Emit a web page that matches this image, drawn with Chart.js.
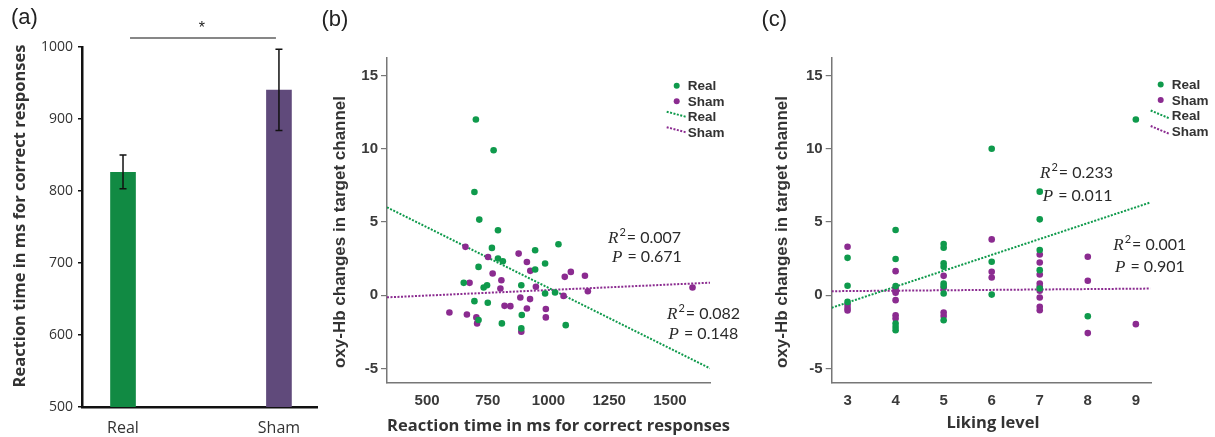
<!DOCTYPE html>
<html>
<head>
<meta charset="utf-8">
<script src="https://cdn.jsdelivr.net/npm/chart.js@4.4.0/dist/chart.umd.min.js"></script>
<style>
  html, body { margin: 0; padding: 0; background: #fff; }
  body { width: 1215px; height: 437px; position: relative; overflow: hidden; }
  canvas { position: absolute; top: 0; }
</style>
</head>
<body>
<canvas id="chartA" width="320" height="437" style="left:0px"></canvas>
<canvas id="chartB" width="450" height="437" style="left:310px"></canvas>
<canvas id="chartC" width="465" height="437" style="left:750px"></canvas>
<script>
// (a) mean reaction time per group
const groups = ['Real', 'Sham'];
const meanRT = [826, 940];
const errLow = [803, 884];
const errHigh = [850, 997];
const rtTicks = [500, 600, 700, 800, 900, 1000];

// (b) reaction time vs oxy-Hb change
const rtReal = [701, 774, 695, 715, 792, 767, 1041, 945, 792, 812, 986, 945, 712, 651, 747, 733, 888, 986, 1027, 695, 750, 890, 712, 808, 888, 1071];
const hbRealB = [12.0, 9.9, 7.05, 5.16, 4.43, 3.23, 3.48, 3.07, 2.5, 2.32, 2.16, 1.75, 1.93, 0.84, 0.68, 0.52, 0.68, 0.11, 0.18, -0.41, -0.52, -1.36, -1.7, -1.93, -2.27, -2.05];
const rtSham = [658, 751, 877, 911, 925, 770, 806, 675, 802, 948, 1092, 1067, 1150, 1162, 1062, 884, 924, 1593, 819, 843, 911, 989, 592, 664, 703, 989, 706, 888];
const hbShamB = [3.3, 2.61, 2.84, 2.27, 1.66, 1.48, 1.02, 0.84, 0.45, 0.57, 1.59, 1.25, 1.33, 0.27, -0.05, -0.16, -0.27, 0.52, -0.73, -0.75, -0.91, -0.95, -1.18, -1.32, -1.52, -1.52, -1.93, -2.5];
const fitXB = [335, 1665];
const fitRealB = [6.0, -5.0];
const fitShamB = [-0.15, 0.85];
const rtAxisTicks = [500, 750, 1000, 1250, 1500];

// (c) liking level vs oxy-Hb change
const likeReal = [3, 3, 3, 4, 4, 4, 4, 4, 4, 5, 5, 5, 5, 5, 5, 5, 5, 6, 6, 6, 7, 7, 7, 7, 7, 8, 9];
const hbRealC = [2.55, 0.64, -0.46, 4.45, 2.47, 0.62, -1.94, -2.17, -2.4, 3.49, 3.24, 2.17, 1.94, 0.8, 0.62, 0.11, -1.71, 10.0, 2.28, 0.04, 7.07, 5.18, 3.08, 1.71, 0.45, -1.44, 12.0];
const likeSham = [3, 3, 3, 3, 4, 4, 4, 4, 4, 4, 4, 5, 5, 5, 5, 6, 6, 6, 7, 7, 7, 7, 7, 7, 7, 7, 7, 8, 8, 8, 9];
const hbShamC = [3.31, -0.64, -0.87, -1.05, 1.64, 0.46, 0.27, 0.16, -0.34, -1.37, -1.6, 1.32, 0.5, -1.19, -1.42, 3.81, 1.6, 1.21, 2.78, 2.23, 1.41, 0.8, 0.57, 0.3, -0.16, -0.8, -1.03, 2.62, 0.98, -2.59, -1.98];
const fitXC = [2.67, 9.3];
const fitRealC = [-0.86, 6.33];
const fitShamC = [0.27, 0.45];
const likeTicks = [3, 4, 5, 6, 7, 8, 9];

const hbTicks = [-5, 0, 5, 10, 15];

const GREEN = '#0f9a4c';
const PURPLE = '#8b2b90';
const TXT = '#333';

function pts(xs, ys) { return xs.map((x, i) => ({ x: x, y: ys[i] })); }

function vText(ctx, txt, x, y, font) {
  ctx.save();
  ctx.translate(x, y);
  ctx.rotate(-Math.PI / 2);
  ctx.font = font;
  ctx.fillStyle = TXT;
  ctx.textAlign = 'center';
  ctx.textBaseline = 'middle';
  ctx.fillText(txt, 0, 0);
  ctx.restore();
}

function panelLabel(ctx, txt, x, y) {
  ctx.save();
  ctx.font = '22px "Liberation Sans"';
  ctx.fillStyle = '#222';
  ctx.textBaseline = 'middle';
  ctx.fillText(txt, x, y);
  ctx.restore();
}

// R² / P annotation: italic serif symbol, then sans value
function stat(ctx, sym, sup, rest, x, y) {
  ctx.save();
  ctx.fillStyle = '#2a2a2a';
  ctx.textBaseline = 'alphabetic';
  ctx.font = 'italic 17px "Liberation Serif"';
  ctx.fillText(sym, x, y);
  let w = ctx.measureText(sym).width + 1;
  if (sup) {
    ctx.font = '11px Lato';
    ctx.fillText(sup, x + w, y - 7);
    w += ctx.measureText(sup).width + 1;
  }
  ctx.font = '16px Lato';
  ctx.fillText(rest, x + w, y);
  ctx.restore();
}

function legend(ctx, ax, ay, slope) {
  ctx.save();
  ctx.font = 'bold 13.5px "Liberation Sans"';
  ctx.fillStyle = TXT;
  ctx.textBaseline = 'middle';
  const rows = [['Real', GREEN, 'dot'], ['Sham', PURPLE, 'dot'], ['Real', GREEN, 'line'], ['Sham', PURPLE, 'line']];
  rows.forEach((r, i) => {
    const y = ay + i * 15.5;
    if (r[2] === 'dot') {
      ctx.fillStyle = r[1];
      ctx.beginPath(); ctx.arc(ax, y, 3, 0, Math.PI * 2); ctx.fill();
    } else {
      ctx.strokeStyle = r[1]; ctx.lineWidth = 2; ctx.setLineDash([2, 1.5]);
      ctx.beginPath(); ctx.moveTo(ax - 10, y - 5); ctx.lineTo(ax + 9, y - 5 + slope); ctx.stroke();
      ctx.setLineDash([]);
    }
    ctx.fillStyle = TXT;
    ctx.fillText(r[0], ax + 11, y + 1);
  });
  ctx.restore();
}

function fixTicks(values) { return function (scale) { scale.ticks = values.map(v => ({ value: v })); }; }
const plain = v => String(v);

// ---------- (a) ----------
const decorA = {
  id: 'decorA',
  afterDatasetsDraw(chart) {
    const { ctx, scales: { x, y } } = chart;
    ctx.save();
    ctx.strokeStyle = '#111';
    ctx.lineWidth = 1.5;
    groups.forEach((g, i) => {
      const px = x.getPixelForValue(i);
      const lo = y.getPixelForValue(errLow[i]);
      const hi = y.getPixelForValue(errHigh[i]);
      ctx.beginPath();
      ctx.moveTo(px, lo); ctx.lineTo(px, hi);
      ctx.moveTo(px - 3.5, lo); ctx.lineTo(px + 3.5, lo);
      ctx.moveTo(px - 3.5, hi); ctx.lineTo(px + 3.5, hi);
      ctx.stroke();
    });
    // significance bracket
    const by = y.top - 9;
    ctx.lineWidth = 1.2;
    ctx.beginPath();
    ctx.moveTo(x.getPixelForValue(0) + 7, by);
    ctx.lineTo(x.getPixelForValue(1) - 3, by);
    ctx.stroke();
    ctx.fillStyle = '#222';
    ctx.font = '16px "Liberation Sans"';
    ctx.textAlign = 'center';
    ctx.textBaseline = 'middle';
    ctx.fillText('*', (x.getPixelForValue(0) + x.getPixelForValue(1)) / 2 + 1, by - 9);
    ctx.restore();
    panelLabel(ctx, '(a)', 11, 18);
    vText(ctx, 'Reaction time in ms for correct responses', 20.5, 216, 'bold 16.5px "Open Sans"');
  }
};

new Chart(document.getElementById('chartA'), {
  type: 'bar',
  data: {
    datasets: [{
      data: pts([0, 1], meanRT),
      backgroundColor: [ '#118a43', '#604a7b' ],
      barThickness: 25
    }]
  },
  options: {
    responsive: false,
    animation: false,
    layout: { padding: { left: 0, top: 47, right: 3, bottom: 0 } },
    plugins: { legend: { display: false }, tooltip: { enabled: false } },
    scales: {
      x: {
        type: 'linear',
        offset: false,
        min: -0.263, max: 1.244,
        afterBuildTicks: fixTicks([0, 1]),
        afterFit(s) { s.height = 30; },
        grid: { display: false, offset: false },
        border: { color: '#111', width: 2.5 },
        ticks: { callback: v => groups[v], color: TXT, padding: 4, font: { family: 'Open Sans', size: 16 } }
      },
      y: {
        min: 500, max: 1000,
        afterBuildTicks: fixTicks(rtTicks),
        afterFit(s) { s.width = 82; },
        grid: { drawOnChartArea: false, tickLength: 4, color: '#111', lineWidth: 1.5 },
        border: { color: '#111', width: 2.5 },
        ticks: { callback: plain, color: TXT, padding: 5, font: { family: 'Open Sans', size: 14 } }
      }
    }
  },
  plugins: [decorA]
});

// ---------- scatter panels ----------
function scatterChart(id, xs1, ys1, xs2, ys2, fitX, fitR, fitS, xMin, xMax, xTicks, yw, rightPad, decor) {
  return new Chart(document.getElementById(id), {
    type: 'scatter',
    data: {
      datasets: [
        { label: 'Real', data: pts(xs1, ys1), backgroundColor: GREEN, borderWidth: 0, pointRadius: 3.3, order: 1 },
        { label: 'Sham', data: pts(xs2, ys2), backgroundColor: PURPLE, borderWidth: 0, pointRadius: 3.3, order: 1 },
        { label: 'Real fit', type: 'line', data: pts(fitX, fitR), borderColor: GREEN, borderWidth: 2, borderDash: [2, 1.5], pointRadius: 0, fill: false, order: 2 },
        { label: 'Sham fit', type: 'line', data: pts(fitX, fitS), borderColor: PURPLE, borderWidth: 2, borderDash: [2, 1.5], pointRadius: 0, fill: false, order: 2 }
      ]
    },
    options: {
      responsive: false,
      animation: false,
      layout: { padding: { left: 0, top: 58, right: rightPad, bottom: 0 } },
      plugins: { legend: { display: false }, tooltip: { enabled: false } },
      scales: {
        x: {
          type: 'linear',
          min: xMin, max: xMax,
          afterBuildTicks: fixTicks(xTicks),
          afterFit(s) { s.height = 54; },
          grid: { display: false, drawTicks: false },
          border: { color: '#777', width: 1.5 },
          ticks: { callback: plain, color: '#3a3a3a', padding: 9, font: { family: 'Liberation Sans', size: 15, weight: 'bold' } }
        },
        y: {
          min: -6.0, max: 16.2,
          afterBuildTicks: fixTicks(hbTicks),
          afterFit(s) { s.width = yw; },
          grid: { drawOnChartArea: false, tickLength: 6, color: '#777', lineWidth: 1.2 },
          border: { color: '#777', width: 1.5 },
          ticks: { callback: plain, color: '#3a3a3a', padding: 3, font: { family: 'Liberation Sans', size: 15, weight: 'bold' } }
        }
      }
    },
    plugins: [decor]
  });
}

scatterChart('chartB', rtReal, hbRealB, rtSham, hbShamB, fitXB, fitRealB, fitShamB, 335, 1665, rtAxisTicks, 77, 50, {
  id: 'decorB',
  afterDraw(chart) {
    const ctx = chart.ctx;
    panelLabel(ctx, '(b)', 11.5, 20);
    vText(ctx, 'oxy-Hb changes in target channel', 30.5, 232, 'bold 17px "Liberation Sans"');
    ctx.save();
    ctx.font = 'bold 16.5px "Open Sans"'; ctx.fillStyle = TXT; ctx.textAlign = 'center'; ctx.textBaseline = 'middle';
    ctx.fillText('Reaction time in ms for correct responses', 248.5, 426.5);
    ctx.restore();
    legend(ctx, 366.7, 85.7, 5);
    stat(ctx, 'R', '2', '= 0.007', 298, 242.5);
    stat(ctx, 'P', '', ' = 0.671', 302, 262);
    stat(ctx, 'R', '2', '= 0.082', 357, 318.5);
    stat(ctx, 'P', '', ' = 0.148', 358.5, 338.5);
  }
});

scatterChart('chartC', likeReal, hbRealC, likeSham, hbShamC, fitXC, fitRealC, fitShamC, 2.67, 9.33, likeTicks, 81.7, 63.3, {
  id: 'decorC',
  afterDraw(chart) {
    const ctx = chart.ctx;
    panelLabel(ctx, '(c)', 11.5, 20);
    vText(ctx, 'oxy-Hb changes in target channel', 32.5, 232, 'bold 17px "Liberation Sans"');
    ctx.save();
    ctx.font = 'bold 16.5px "Open Sans"'; ctx.fillStyle = TXT; ctx.textAlign = 'center'; ctx.textBaseline = 'middle';
    ctx.fillText('Liking level', 243, 423);
    ctx.restore();
    legend(ctx, 410.7, 84.5, 8);
    stat(ctx, 'R', '2', '= 0.233', 290, 177.5);
    stat(ctx, 'P', '', ' = 0.011', 292.7, 200.5);
    stat(ctx, 'R', '2', '= 0.001', 363.3, 250);
    stat(ctx, 'P', '', ' = 0.901', 365, 271.7);
  }
});
</script>
</body>
</html>
